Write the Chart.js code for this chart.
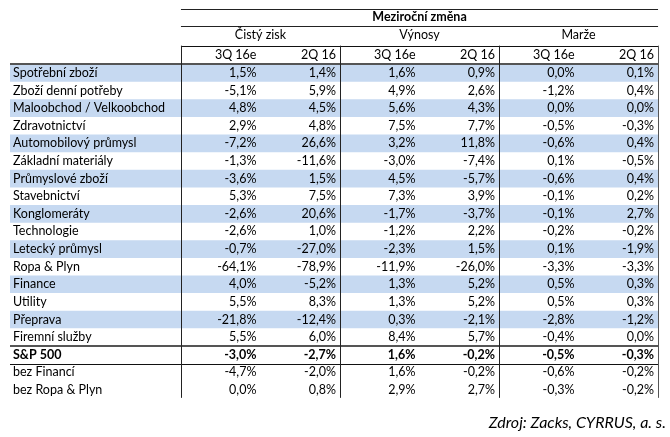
<!DOCTYPE html>
<html>
<head>
<meta charset="utf-8">
<script src="https://cdn.jsdelivr.net/npm/chart.js@4/dist/chart.umd.min.js"></script>
<style>
  body { margin: 0; background: #fff; }
</style>
</head>
<body>
<canvas id="tab" width="670" height="437"></canvas>
<script>
'use strict';

/*--- data ---*/
var categories = ['Spotřební zboží', 'Zboží denní potřeby', 'Maloobchod / Velkoobchod', 'Zdravotnictví',
  'Automobilový průmysl', 'Základní materiály', 'Průmyslové zboží', 'Stavebnictví', 'Konglomeráty',
  'Technologie', 'Letecký průmysl', 'Ropa & Plyn', 'Finance', 'Utility', 'Přeprava', 'Firemní služby',
  'S&P 500', 'bez Financí', 'bez Ropa & Plyn'];
var ziskQ3 = [1.5, -5.1, 4.8, 2.9, -7.2, -1.3, -3.6, 5.3, -2.6, -2.6, -0.7, -64.1, 4.0, 5.5, -21.8, 5.5, -3.0, -4.7, 0.0];
var ziskQ2 = [1.4, 5.9, 4.5, 4.8, 26.6, -11.6, 1.5, 7.5, 20.6, 1.0, -27.0, -78.9, -5.2, 8.3, -12.4, 6.0, -2.7, -2.0, 0.8];
var vynosyQ3 = [1.6, 4.9, 5.6, 7.5, 3.2, -3.0, 4.5, 7.3, -1.7, -1.2, -2.3, -11.9, 1.3, 1.3, 0.3, 8.4, 1.6, 1.6, 2.9];
var vynosyQ2 = [0.9, 2.6, 4.3, 7.7, 11.8, -7.4, -5.7, 3.9, -3.7, 2.2, 1.5, -26.0, 5.2, 5.2, -2.1, 5.7, -0.2, -0.2, 2.7];
var marzeQ3 = [0.0, -1.2, 0.0, -0.5, -0.6, 0.1, -0.6, -0.1, -0.1, -0.2, 0.1, -3.3, 0.5, 0.5, -2.8, -0.4, -0.5, -0.6, -0.3];
var marzeQ2 = [0.1, 0.4, 0.0, -0.3, 0.4, -0.5, 0.4, 0.2, 2.7, -0.2, -1.9, -3.3, 0.3, 0.3, -1.2, 0.0, -0.3, -0.2, -0.2];

var tableTitle = 'Meziroční změna';
var groups = ['Čistý zisk', 'Výnosy', 'Marže'];
var periods = ['3Q 16e', '2Q 16'];
var source = 'Zdroj: Zacks, CYRRUS, a. s.';

var columns = [ziskQ3, ziskQ2, vynosyQ3, vynosyQ2, marzeQ3, marzeQ2];

/*--- layout on the scales: value column c spans x = c..c+1, data row r sits at y = r+3 ---*/
var X_MIN = -2.15, X_END = 6;
var FIRST = 3;
var boldRow = categories.indexOf('S&P 500');

function fmt(v) {
  return v.toFixed(1).replace('.', ',') + '%';
}

var FONT = 'Lato, "Noto Sans", sans-serif';
var SIZE = '12.5px ';

/*--- stripes: every other row down to Přeprava ---*/
var stripes = [];
categories.forEach(function (c, i) {
  if (i < 15 && i % 2 === 0) stripes.push({ x: [X_MIN, X_END], y: i + FIRST });
});

/*--- grid lines + texts ---*/
var tablePlugin = {
  id: 'tablePlugin',
  afterDatasetsDraw: function (chart) {
    var ctx = chart.ctx;
    var sx = chart.scales.x, sy = chart.scales.y;
    var X = function (v) { return sx.getPixelForValue(v); };
    var Y = function (v) { return sy.getPixelForValue(v); };

    function hline(y, x0, x1, w, col) {
      ctx.beginPath();
      ctx.lineWidth = w;
      ctx.strokeStyle = col;
      var py = Math.round(Y(y)) + (w % 2 ? 0.5 : 0);
      ctx.moveTo(X(x0), py);
      ctx.lineTo(X(x1), py);
      ctx.stroke();
    }
    function vline(x, y0, y1, w, col) {
      ctx.beginPath();
      ctx.lineWidth = w;
      ctx.strokeStyle = col;
      var px = Math.round(X(x)) + (w % 2 ? 0.5 : 0);
      ctx.moveTo(px, Y(y0));
      ctx.lineTo(px, Y(y1));
      ctx.stroke();
    }

    ctx.save();
    // header rules
    hline(-0.63, 0, X_END, 1, '#222');
    hline(0.33, 0, X_END, 1, '#222');
    hline(1.45, 0, X_END, 1, '#111');
    hline(FIRST - 0.5, X_MIN, X_END, 2, '#555');
    hline(boldRow + FIRST - 0.5, X_MIN, X_END, 2, '#555');
    hline(boldRow + FIRST + 0.5, X_MIN, X_END, 1, '#111');
    // column rules
    [0, 2, 4].forEach(function (x) { vline(x, 1.45, categories.length + FIRST - 0.55, 1, '#222'); });
    vline(X_END, 1.45, categories.length + FIRST - 0.55, 1, '#555');

    ctx.fillStyle = '#000';
    ctx.textBaseline = 'middle';

    // header texts
    ctx.font = 'bold ' + SIZE + FONT;
    ctx.textAlign = 'center';
    ctx.fillText(tableTitle, X(3), Y(-0.17));
    ctx.font = SIZE + FONT;
    groups.forEach(function (g, i) {
      ctx.fillText(g, X(2 * i + 1), Y(0.86));
    });
    ctx.textAlign = 'right';
    groups.forEach(function (g, i) {
      periods.forEach(function (p, j) {
        ctx.fillText(p, X(2 * i + j + 1) - 4, Y(1.98));
      });
    });

    // body
    categories.forEach(function (cat, r) {
      var y = Y(r + FIRST);
      ctx.font = (r === boldRow ? 'bold ' : '') + SIZE + FONT;
      ctx.textAlign = 'left';
      ctx.fillText(cat, X(X_MIN) + 3, y);
      ctx.textAlign = 'right';
      columns.forEach(function (col, c) {
        ctx.fillText(fmt(col[r]), X(c + 1) - 4, y);
      });
    });
    ctx.restore();
  }
};

new Chart(document.getElementById('tab'), {
  type: 'bar',
  data: {
    datasets: [{
      data: stripes,
      backgroundColor: '#c6d9f1',
      borderWidth: 0,
      barThickness: 17
    }]
  },
  options: {
    indexAxis: 'y',
    responsive: false,
    animation: false,
    devicePixelRatio: 1,
    layout: { padding: { left: 10, right: 4, top: 7.8, bottom: 0 } },
    scales: {
      x: { type: 'linear', min: X_MIN, max: 6.1, offset: false, display: false },
      y: { type: 'linear', min: -0.7, max: 21.6, reverse: true, offset: false, display: false }
    },
    plugins: {
      legend: { display: false },
      tooltip: { enabled: false },
      title: {
        display: true,
        text: source,
        position: 'bottom',
        align: 'end',
        color: '#000',
        font: { family: FONT, size: 16, style: 'italic', weight: 'normal' },
        padding: { top: 12.9, bottom: 4.4 }
      }
    }
  },
  plugins: [tablePlugin]
});
</script>
</body>
</html>
